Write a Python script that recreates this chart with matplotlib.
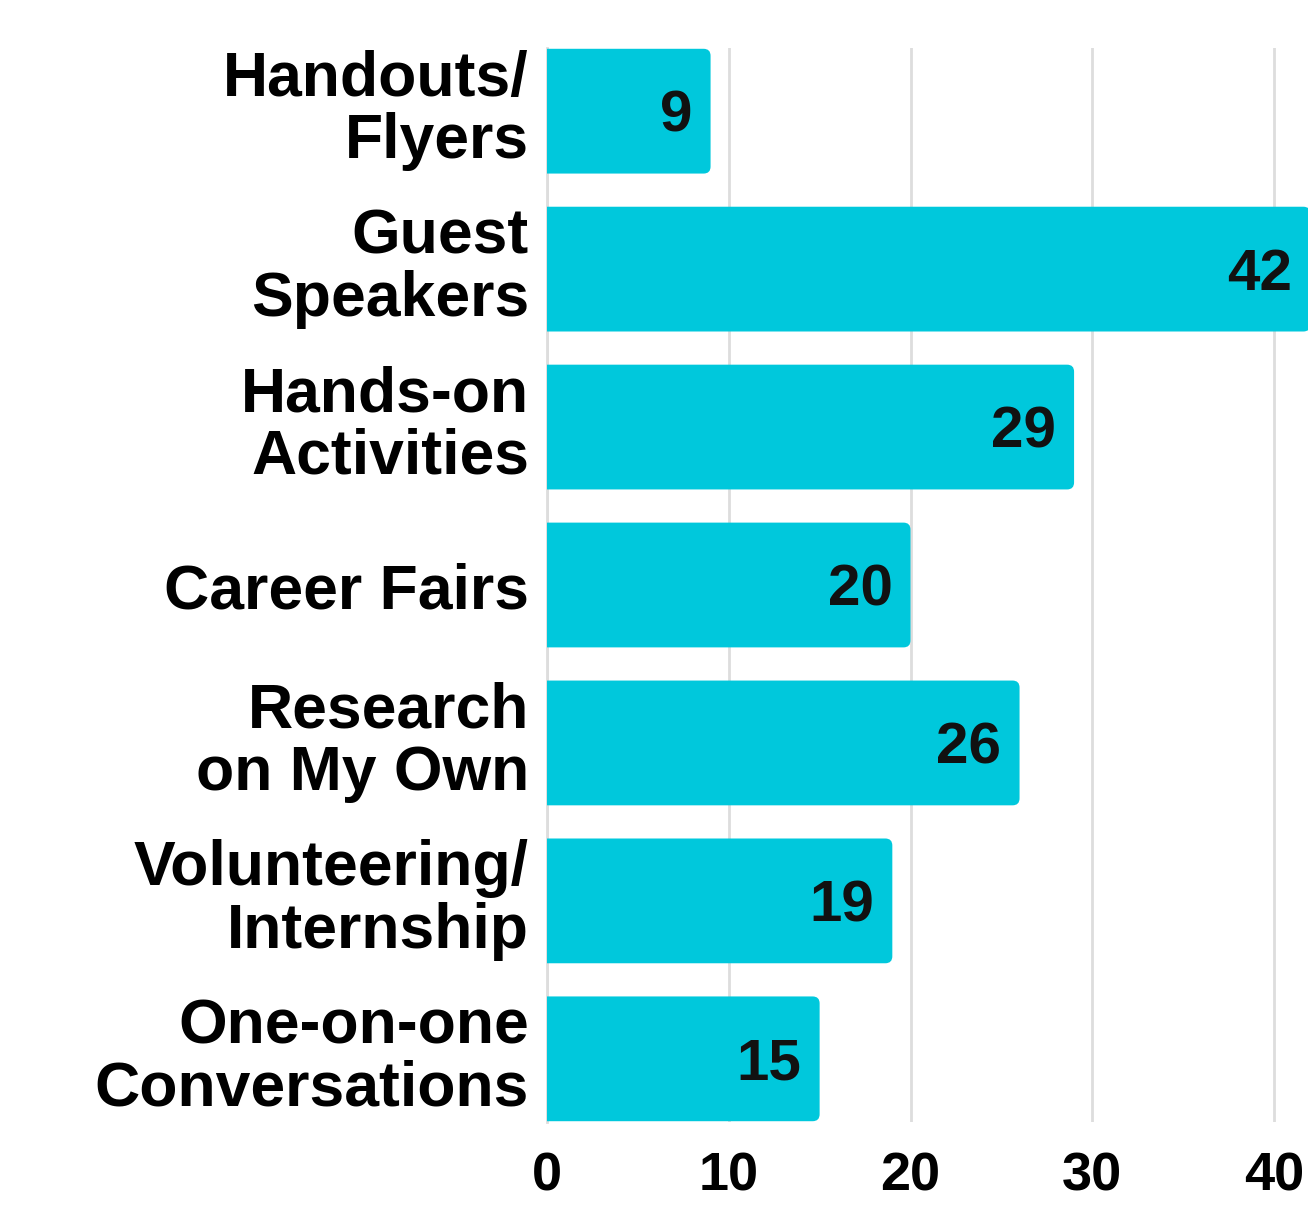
import matplotlib
matplotlib.use("Agg")
import matplotlib.pyplot as plt
from matplotlib.patches import FancyBboxPatch
from matplotlib.transforms import ScaledTranslation

categories = ["Handouts/\nFlyers", "Guest\nSpeakers", "Hands-on\nActivities", "Career Fairs",
              "Research\non My Own", "Volunteering/\nInternship", "One-on-one\nConversations"]
values = [9, 42, 29, 20, 26, 19, 15]
xticks = [0, 10, 20, 30, 40]

plt.rcParams['font.family'] = ['Liberation Sans', 'DejaVu Sans']

fig = plt.figure(figsize=(13.08, 12.06), dpi=100)
W, H = 1308, 1206
ax = fig.add_axes([547 / W, 84 / H, 761 / W, 1074 / H])

BAR_H = 0.79
COLOR = "#00C8DC"
px_x = 18.175   # pixels per x unit
px_y = 157.8    # pixels per category
rad = 7 / px_x
x0 = -1.0       # start left of axes so left corners are clipped (square)
ys = list(range(len(categories)))
for y, v in zip(ys, values):
    p = FancyBboxPatch((x0, y - BAR_H / 2), v - x0, BAR_H,
                       boxstyle=f"round,pad=0,rounding_size={rad}",
                       mutation_aspect=px_x / px_y,
                       facecolor=COLOR, edgecolor="none", zorder=3)
    ax.add_patch(p)
    ax.annotate(str(v), xy=(v, y), xytext=(-13, -4), textcoords="offset points",
                ha="right", va="center", fontsize=42, fontweight="bold", color="#111111",
                zorder=4, annotation_clip=False)

ax.set_xlim(0, 761 / px_x)
ax.set_ylim(6.4, -0.4)
ax.set_yticks(ys)
ax.set_yticklabels(categories, fontsize=45, fontweight="bold", linespacing=1.07)
ax.set_xticks(xticks)
ax.set_xticklabels([str(t) for t in xticks], fontsize=39, fontweight="bold")
ax.tick_params(axis="y", length=0, pad=13)
ax.tick_params(axis="x", length=0, pad=21)
ax.grid(axis="x", color="#DDDDDD", linewidth=2, zorder=0)
for s in ["top", "right", "bottom"]:
    ax.spines[s].set_visible(False)
ax.spines["left"].set_color("#DDDDDD")
ax.spines["left"].set_linewidth(2)
ax.spines["left"].set_zorder(1)

for lab in ax.get_yticklabels():
    if "\n" in lab.get_text():
        lab.set_transform(lab.get_transform() + ScaledTranslation(0, 9 / 100, fig.dpi_scale_trans))

fig.savefig("out.png", dpi=100)
